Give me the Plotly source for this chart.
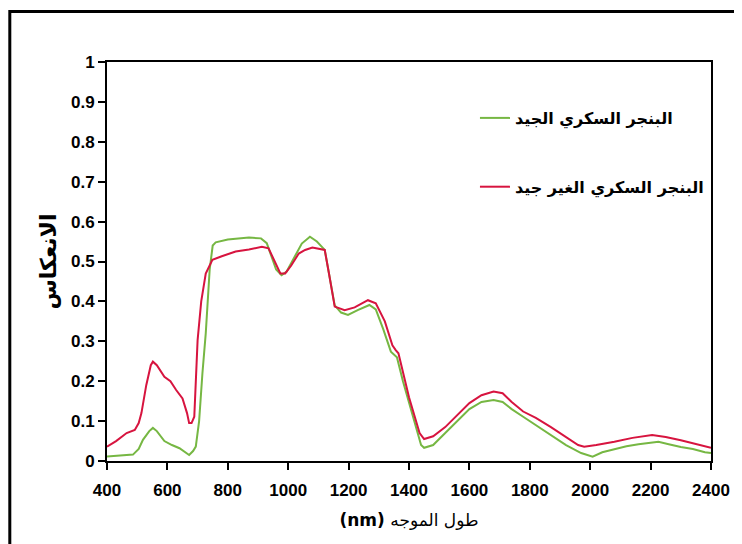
import plotly.graph_objects as go

# Wavelength (nm) and reflectance for good sugar beet
wl_good = [400, 450, 486, 505, 519, 540, 552, 565, 590, 615, 640, 672, 685, 694, 705, 716, 727, 740, 750, 760,
           800, 870, 910, 929, 945, 960, 978, 995, 1020, 1045, 1072, 1095, 1121, 1135, 1154, 1175, 1198, 1230,
           1269, 1290, 1315, 1340, 1360, 1380, 1410, 1440, 1450, 1480, 1520, 1560, 1600, 1640, 1680, 1710,
           1740, 1778, 1820, 1870, 1920, 1970, 2008, 2040, 2080, 2120, 2160, 2200, 2226, 2260, 2300, 2340,
           2380, 2400]
refl_good = [0.011, 0.014, 0.016, 0.030, 0.053, 0.075, 0.083, 0.075, 0.050, 0.040, 0.032, 0.015, 0.025, 0.036,
             0.100, 0.220, 0.320, 0.480, 0.540, 0.548, 0.555, 0.560, 0.558, 0.546, 0.510, 0.480, 0.466, 0.475,
             0.510, 0.545, 0.562, 0.550, 0.529, 0.470, 0.390, 0.372, 0.366, 0.378, 0.391, 0.380, 0.330, 0.274,
             0.260, 0.200, 0.120, 0.040, 0.033, 0.040, 0.070, 0.100, 0.130, 0.148, 0.153, 0.148, 0.130, 0.111,
             0.090, 0.065, 0.040, 0.020, 0.011, 0.022, 0.030, 0.037, 0.042, 0.046, 0.048, 0.042, 0.035, 0.030,
             0.022, 0.020]

# Wavelength (nm) and reflectance for poor sugar beet
wl_bad = [400, 430, 465, 492, 505, 514, 530, 545, 552, 565, 590, 610, 629, 650, 665, 672, 680, 689, 700, 712,
          727, 749, 780, 826, 870, 913, 935, 955, 974, 990, 1010, 1035, 1056, 1080, 1121, 1135, 1154, 1187,
          1220, 1264, 1290, 1320, 1345, 1356, 1365, 1400, 1435, 1450, 1480, 1520, 1560, 1600, 1640, 1680,
          1710, 1740, 1778, 1820, 1870, 1920, 1960, 1980, 2020, 2080, 2140, 2205, 2250, 2300, 2350, 2400]
refl_bad = [0.036, 0.050, 0.070, 0.078, 0.095, 0.120, 0.190, 0.240, 0.249, 0.240, 0.211, 0.200, 0.178, 0.157,
            0.120, 0.095, 0.095, 0.111, 0.303, 0.400, 0.470, 0.504, 0.513, 0.525, 0.530, 0.537, 0.533, 0.500,
            0.470, 0.470, 0.490, 0.520, 0.529, 0.535, 0.529, 0.470, 0.387, 0.378, 0.385, 0.403, 0.395, 0.350,
            0.290, 0.278, 0.270, 0.160, 0.070, 0.055, 0.062, 0.085, 0.115, 0.145, 0.165, 0.174, 0.170, 0.148,
            0.124, 0.108, 0.085, 0.060, 0.040, 0.036, 0.040, 0.048, 0.058, 0.065, 0.060, 0.052, 0.043, 0.033]

name_good = "البنجر السكري الجيد"
name_bad = "البنجر السكري الغير جيد"
x_title = "<b>(nm)</b> طول الموجه"
y_title = "الانعكاس"

ARABIC = "DejaVu Sans"
LATIN = "Liberation Sans, Arial, sans-serif"

fig = go.Figure()
fig.add_trace(go.Scatter(x=wl_good, y=refl_good, mode="lines", name=name_good, legendgroup="g",
                         line=dict(color="#76b743", width=2)))
fig.add_trace(go.Scatter(x=wl_bad, y=refl_bad, mode="lines", name=name_bad, legendgroup="b",
                         line=dict(color="#d7143f", width=2)))

# page body has an 8px default margin; figure coordinates = window - 8
OFF = 8
W, H = 734, 536
L, R, T, B = 99, 26, 54, 83
pw, ph = W - L - R, H - T - B

def px(xw):
    return (xw - OFF - L) / pw

def py(yw):
    return (H - B - (yw - OFF)) / ph

fig.update_layout(
    width=W, height=H,
    margin=dict(l=L, r=R, t=T, b=B),
    paper_bgcolor="white", plot_bgcolor="white",
    showlegend=True,
    legend=dict(x=px(478), y=py(101), xanchor="left", yanchor="top",
                font=dict(family=ARABIC, size=16, color="black", weight="bold"),
                bgcolor="rgba(255,255,255,0)", itemwidth=30, tracegroupgap=45,
                traceorder="grouped"),
    xaxis=dict(range=[400, 2400], dtick=200, tick0=400, showgrid=False, zeroline=False,
               showline=True, linecolor="black", linewidth=2, mirror=True,
               ticks="outside", ticklen=7, tickwidth=2, tickcolor="black", ticklabelstandoff=6,
               tickfont=dict(family=LATIN, size=17, color="black", weight="bold"),
               title=dict(text=x_title, font=dict(family=ARABIC, size=17, color="black"), standoff=15)),
    yaxis=dict(range=[0, 1], dtick=0.1, showgrid=False, zeroline=False,
               showline=True, linecolor="black", linewidth=2, mirror=True,
               ticks="outside", ticklen=7, tickwidth=2, tickcolor="black",
               tickfont=dict(family=LATIN, size=17, color="black", weight="bold"),
               title=dict(text=y_title, font=dict(family=ARABIC, size=22, color="black", weight="bold"),
                          standoff=8)),
    shapes=[dict(type="path", xref="paper", yref="paper",
                 path=f"M {px(9)} {py(560)} L {px(9)} {py(11.5)} L {px(760)} {py(11.5)}",
                 line=dict(color="black", width=3), layer="above")],
)

fig.write_html("out.html")
